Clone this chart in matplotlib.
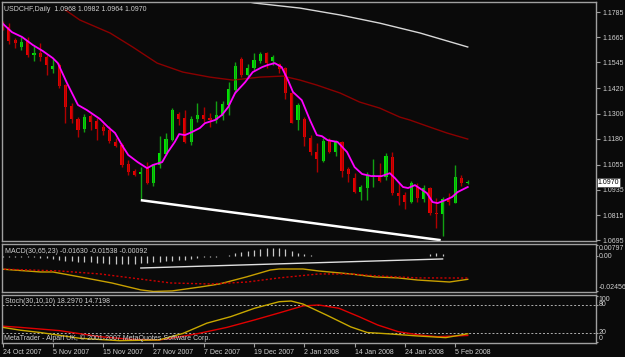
import matplotlib.pyplot as plt
from matplotlib.transforms import blended_transform_factory

plt.rcParams['font.family'] = ['Liberation Sans', 'DejaVu Sans']

# --- data (daily USDCHF, bar 0 = 24 Oct 2007) ---
date_labels = ['24 Oct 2007', '5 Nov 2007', '15 Nov 2007', '27 Nov 2007', '7 Dec 2007',
               '19 Dec 2007', '2 Jan 2008', '14 Jan 2008', '24 Jan 2008', '5 Feb 2008']
date_bars = [0, 8, 16, 24, 32, 40, 48, 56, 64, 72]

opens = [1.1732, 1.1713, 1.1651, 1.1618, 1.1646, 1.1580, 1.1589, 1.1570, 1.1513, 1.1532,
         1.1436, 1.1336, 1.1274, 1.1226, 1.1288, 1.1264, 1.1235, 1.1221, 1.1164, 1.1149,
         1.1058, 1.1025, 1.1011, 1.1039, 1.0968, 1.1054, 1.1106, 1.1173, 1.1297, 1.1278,
         1.1164, 1.1274, 1.1293, 1.1278, 1.1269, 1.1288, 1.1341, 1.1412, 1.1560, 1.1484,
         1.1517, 1.1551, 1.1589, 1.1551, 1.1537, 1.1517, 1.1398, 1.1269, 1.1274, 1.1183,
         1.1116, 1.1073, 1.1168, 1.1116, 1.1164, 1.1035, 1.0992, 1.0925, 1.0944, 1.0996,
         1.1001, 1.0996, 1.1092, 1.0920, 1.0910, 1.0877, 1.0949, 1.0891, 1.0944, 1.0824,
         1.0819, 1.0896, 1.0872, 1.0992, 1.0968]
highs = [1.1742, 1.1732, 1.1661, 1.1666, 1.1666, 1.1623, 1.1637, 1.1580, 1.1560, 1.1541,
         1.1441, 1.1350, 1.1283, 1.1297, 1.1297, 1.1278, 1.1250, 1.1240, 1.1183, 1.1159,
         1.1078, 1.1035, 1.1044, 1.1068, 1.1058, 1.1192, 1.1207, 1.1326, 1.1307, 1.1317,
         1.1288, 1.1350, 1.1331, 1.1302, 1.1360, 1.1360, 1.1450, 1.1546, 1.1570, 1.1537,
         1.1589, 1.1594, 1.1594, 1.1580, 1.1541, 1.1522, 1.1403, 1.1350, 1.1283, 1.1197,
         1.1159, 1.1183, 1.1183, 1.1173, 1.1168, 1.1044, 1.1015, 1.0958, 1.1020, 1.1082,
         1.1063, 1.1111, 1.1116, 1.0968, 1.0925, 1.0977, 1.0968, 1.0958, 1.0949, 1.0896,
         1.0901, 1.0920, 1.1054, 1.1006, 1.0982]
lows = [1.1699, 1.1632, 1.1613, 1.1603, 1.1570, 1.1551, 1.1551, 1.1484, 1.1493, 1.1422,
        1.1254, 1.1254, 1.1188, 1.1211, 1.1221, 1.1173, 1.1197, 1.1159, 1.1140, 1.1044,
        1.1006, 1.1001, 1.0886, 1.0963, 1.0953, 1.1039, 1.1102, 1.1168, 1.1245, 1.1159,
        1.1149, 1.1259, 1.1259, 1.1235, 1.1254, 1.1269, 1.1293, 1.1398, 1.1474, 1.1474,
        1.1508, 1.1541, 1.1517, 1.1532, 1.1493, 1.1369, 1.1254, 1.1221, 1.1144, 1.1102,
        1.1020, 1.1068, 1.1111, 1.1097, 1.0996, 1.0972, 1.0920, 1.0886, 1.0886, 1.0949,
        1.0972, 1.0982, 1.0910, 1.0863, 1.0843, 1.0872, 1.0877, 1.0877, 1.0815, 1.0753,
        1.0714, 1.0863, 1.0872, 1.0953, 1.0964]
closes = [1.1709, 1.1646, 1.1637, 1.1642, 1.1580, 1.1589, 1.1570, 1.1532, 1.1527, 1.1431,
          1.1331, 1.1274, 1.1221, 1.1283, 1.1259, 1.1226, 1.1216, 1.1168, 1.1144, 1.1054,
          1.1020, 1.1006, 1.1020, 1.0968, 1.1054, 1.1111, 1.1178, 1.1317, 1.1274, 1.1164,
          1.1274, 1.1293, 1.1274, 1.1269, 1.1293, 1.1345, 1.1417, 1.1527, 1.1484, 1.1517,
          1.1556, 1.1584, 1.1541, 1.1570, 1.1513, 1.1398, 1.1254, 1.1341, 1.1188, 1.1116,
          1.1082, 1.1168, 1.1116, 1.1164, 1.1025, 1.1011, 1.0925, 1.0949, 1.1006, 1.1006,
          1.0977, 1.1097, 1.0920, 1.0906, 1.0877, 1.0968, 1.0896, 1.0944, 1.0824, 1.0819,
          1.0891, 1.0877, 1.0996, 1.0968, 1.0970]

# moving averages (magenta fast, dark red mid, white slow)
ma_fast_x = [0.1, 1.5, 3.1, 4.85, 6.4, 8.0, 8.8, 10.25, 12.0, 13.4, 15.5, 16.8, 17.9, 19.0, 20.0,
             21.5, 23.0, 23.9, 25.4, 26.3, 27.4, 28.1, 29.0, 30.1, 31.4, 32.2, 33.8, 34.9, 35.9,
             37.0, 38.6, 39.8, 41.3, 42.2, 43.3, 44.4, 45.4, 46.2, 47.6, 48.9, 50.0, 50.8, 51.7,
             53.3, 54.8, 56.0, 57.2, 58.7, 60.3, 61.6, 62.4, 63.7, 64.5, 65.6, 67.5, 68.4, 69.2,
             70.4, 71.5, 72.4, 74.0]
ma_fast = [1.1728, 1.1689, 1.1666, 1.1627, 1.1599, 1.1565, 1.1541, 1.1446, 1.1341, 1.1317,
           1.1274, 1.1235, 1.1207, 1.1149, 1.1102, 1.1068, 1.1039, 1.1054, 1.1068, 1.1116,
           1.1164, 1.1202, 1.1197, 1.1211, 1.1231, 1.1254, 1.1269, 1.1293, 1.1331, 1.1398,
           1.1450, 1.1498, 1.1522, 1.1532, 1.1541, 1.1522, 1.1460, 1.1403, 1.1364, 1.1269,
           1.1197, 1.1192, 1.1173, 1.1164, 1.1116, 1.1044, 1.1011, 1.1001, 1.1001, 1.1015,
           1.0992, 1.0949, 1.0944, 1.0958, 1.0920, 1.0877, 1.0872, 1.0886, 1.0901, 1.0925,
           1.0949]
ma_mid_x = [10.0, 12.3, 17.1, 20.7, 24.6, 28.7, 33.0, 36.6, 38.2, 40.9, 44.6, 47.3, 50.0,
            53.7, 56.8, 60.0, 63.2, 64.8, 68.0, 70.7, 74.0]
ma_mid = [1.1795, 1.1747, 1.1685, 1.1618, 1.1541, 1.1498, 1.1474, 1.1460, 1.1465, 1.1474,
          1.1479, 1.1460, 1.1436, 1.1398, 1.1355, 1.1326, 1.1283, 1.1269, 1.1235, 1.1207,
          1.1178]
ma_slow_x = [38.0, 40.1, 47.3, 53.7, 60.0, 66.4, 74.0]
ma_slow = [1.1840, 1.1828, 1.1804, 1.1771, 1.1732, 1.1685, 1.1618]

trend_x = [22, 69.7]
trend_y = [1.0886, 1.0695]

price_ticks = [1.1785, 1.1665, 1.1545, 1.1420, 1.1300, 1.1180, 1.1055, 1.0935, 1.0815, 1.0695]

# MACD(30,65,23)
macd_hist = [-0.0004, -0.0004, -0.0004, -0.0004, -0.0004, -0.0007, -0.0011, -0.0014, -0.0021, -0.0028,
             -0.0032, -0.0035, -0.0039, -0.0042, -0.0042, -0.0046, -0.0049, -0.0053, -0.0057, -0.0057,
             -0.0057, -0.0053, -0.0049, -0.0046, -0.0042, -0.0039, -0.0035, -0.0032, -0.0028, -0.0025,
             -0.0021, -0.0014, -0.0007, -0.0004, -0.0004, 0.0004, 0.0007, 0.0021, 0.0032, 0.0039,
             0.0046, 0.0053, 0.0057, 0.0060, 0.0057, 0.0049, 0.0035, 0.0025, 0.0014, 0.0007,
             0.0004, 0.0004, 0.0004, 0.0004, 0.0004, 0.0004, 0.0004, 0.0004, 0.0004, 0.0004,
             0.0004, 0.0004, 0.0004, 0.0004, 0.0004, 0.0004, 0.0004, 0.0004, 0.0014, 0.0021,
             0.0014, 0.0004, 0.0004, 0.0004, 0.0004]
macd_main_x = [-0.4, 6.0, 8.0, 12.3, 17.4, 22.0, 24.0, 27.0, 31.5, 34.5, 38.8, 42.6, 44.0, 47.8,
               50.3, 55.4, 59.2, 62.9, 66.0, 71.1, 74.0]
macd_main = [-0.0090, -0.0111, -0.0111, -0.0146, -0.0189, -0.0238, -0.0249, -0.0245, -0.0217,
             -0.0196, -0.0146, -0.0097, -0.0090, -0.0090, -0.0104, -0.0125, -0.0146, -0.0153,
             -0.0168, -0.0182, -0.0163]
macd_sig_x = [-0.4, 9.1, 15.5, 21.7, 26.8, 33.1, 38.9, 44.0, 50.3, 55.4, 59.7, 66.0, 74.0]
macd_sig = [-0.0090, -0.0104, -0.0125, -0.0160, -0.0189, -0.0196, -0.0182, -0.0153, -0.0125,
            -0.0125, -0.0139, -0.0153, -0.0154]
macd_trend_x = [22, 70]
macd_trend_y = [-0.0083, -0.0019]

# Stoch(30,10,10)
stoch_main_x = [-0.4, 2.8, 6.0, 12.3, 18.6, 24.9, 28.7, 32.5, 36.3, 40.1, 44.0, 45.9, 47.8, 51.6,
                55.4, 58.0, 61.6, 66.1, 70.5, 74.0]
stoch_main = [33, 26, 21, 8.6, 3.5, 5, 19, 41, 55, 73, 87, 88.5, 82, 58, 33, 21, 18, 13.5, 10, 18.3]
stoch_sig_x = [-0.4, 2.8, 9.1, 15.5, 20.4, 24.9, 26.8, 31.2, 35.7, 40.1, 44.0, 47.8, 50.3, 53.5,
               56.7, 59.7, 62.9, 66.1, 69.2, 74.0]
stoch_sig = [35, 32, 25, 12, 6.4, 5, 8.6, 19, 32, 48, 63, 78, 80, 73, 55, 37, 23, 16, 12, 14.7]

W, H = 625, 357
BG = '#0a0a0a'
FRAME = '#a0a0a0'
TXT = '#d0d0d0'
FS = 5

fig = plt.figure(figsize=(W / 100, H / 100), dpi=100, facecolor=BG)


def panel(x0, y0, x1, y1, tick_len=3, pad=1.5):
    ax = fig.add_axes([x0 / W, 1 - y1 / H, (x1 - x0) / W, (y1 - y0) / H])
    ax.set_facecolor(BG)
    for s in ax.spines.values():
        s.set_color(FRAME)
        s.set_linewidth(1)
    ax.set_xlim(-0.08, 94.4)
    ax.yaxis.tick_right()
    ax.tick_params(axis='y', direction='out', length=tick_len, width=0.8, color=FRAME,
                   labelcolor=TXT, labelsize=FS, pad=pad)
    ax.tick_params(axis='x', bottom=False, labelbottom=False)
    return ax


# ---------------- price panel ----------------
ax = panel(2, 2, 596, 241)
ax.set_ylim(1.0691, 1.1833)

xs = list(range(len(opens)))
up = [c >= o for o, c in zip(opens, closes)]
body_col = ['#00e600' if u else '#e60000' for u in up]
wick_col = ['#12a012' if u else '#b00000' for u in up]
bottoms = [min(o, c) for o, c in zip(opens, closes)]
heights = [max(abs(c - o), 0.0005) for o, c in zip(opens, closes)]

ax.plot(ma_slow_x, ma_slow, color='#d8d8d8', lw=1)
ax.plot(ma_mid_x, ma_mid, color='#8a0000', lw=1)
ax.vlines(xs, lows, highs, colors=wick_col, lw=1)
ax.bar(xs, heights, bottom=bottoms, width=0.5, color=body_col, lw=0)
ax.plot(ma_fast_x, ma_fast, color='#ff00ff', lw=1.3)
ax.plot(trend_x, trend_y, color='white', lw=1.8, solid_capstyle='butt')

ax.set_yticks(price_ticks)
ax.set_yticklabels(['%.4f' % p for p in price_ticks])

ax.text(0.004, 0.985, 'USDCHF,Daily  1.0968 1.0982 1.0964 1.0970', transform=ax.transAxes,
        ha='left', va='top', fontsize=FS, color=TXT)

tr = blended_transform_factory(ax.transAxes, ax.transData)
ax.text(1.003, closes[-1], '%.4f' % closes[-1], transform=tr, ha='left', va='center',
        fontsize=FS, color='black', clip_on=False,
        bbox=dict(facecolor='white', edgecolor='#404040', pad=0.6, lw=0.5))

# ---------------- MACD panel ----------------
ax2 = panel(2, 244, 596, 292, tick_len=1.5, pad=0.3)
ax2.set_ylim(-0.02527, 0.00868)
ax2.vlines(xs, 0, macd_hist, colors='#c8c8c8', lw=0.9)
ax2.plot(macd_trend_x, macd_trend_y, color='#e0e0e0', lw=1)
ax2.plot(macd_main_x, macd_main, color='#c8a000', lw=1)
ax2.plot(macd_sig_x, macd_sig, color='#d00000', lw=1, ls=(0, (1.5, 1.5)))
ax2.set_yticks([0.00797, 0.0, -0.02456])
ax2.set_yticklabels(['0.00797', '0.00', '-0.02456'])
for lab, va in zip(ax2.get_yticklabels(), ['top', 'center', 'bottom']):
    lab.set_va(va)
ax2.text(0.005, 0.92, 'MACD(30,65,23) -0.01630 -0.01538 -0.00092', transform=ax2.transAxes,
         ha='left', va='top', fontsize=FS, color=TXT)

# ---------------- Stochastic panel ----------------
ax3 = panel(2, 295, 596, 343, tick_len=1.5, pad=0.5)
ax3.set_ylim(-1.5, 101.4)
for lvl in (80, 20):
    ax3.axhline(lvl, color='#b0b0b0', lw=0.7, ls=(0, (2, 2)))
ax3.plot(stoch_sig_x, stoch_sig, color='#e00000', lw=1)
ax3.plot(stoch_main_x, stoch_main, color='#c8a800', lw=1)
ax3.set_yticks([100, 80, 20, 0])
ax3.set_yticklabels(['100', '80', '20', '0'])
for lab, va in zip(ax3.get_yticklabels(), ['top', 'center', 'center', 'bottom']):
    lab.set_va(va)
ax3.text(0.005, 0.93, 'Stoch(30,10,10) 18.2970 14.7198', transform=ax3.transAxes,
         ha='left', va='top', fontsize=FS, color=TXT)
ax3.text(0.004, 0.03, 'MetaTrader - Alpari UK, \u00a9 2001-2007 MetaQuotes Software Corp.',
         transform=ax3.transAxes, ha='left', va='bottom', fontsize=FS, color=TXT)

ax3.tick_params(axis='x', bottom=True, labelbottom=True, direction='out', length=3,
                width=0.8, color=FRAME, labelcolor=TXT, labelsize=FS, pad=1)
ax3.set_xticks(date_bars)
ax3.set_xticklabels(date_labels)
for lab in ax3.get_xticklabels():
    lab.set_ha('left')

fig.savefig('out.png', dpi=100, facecolor=BG)
